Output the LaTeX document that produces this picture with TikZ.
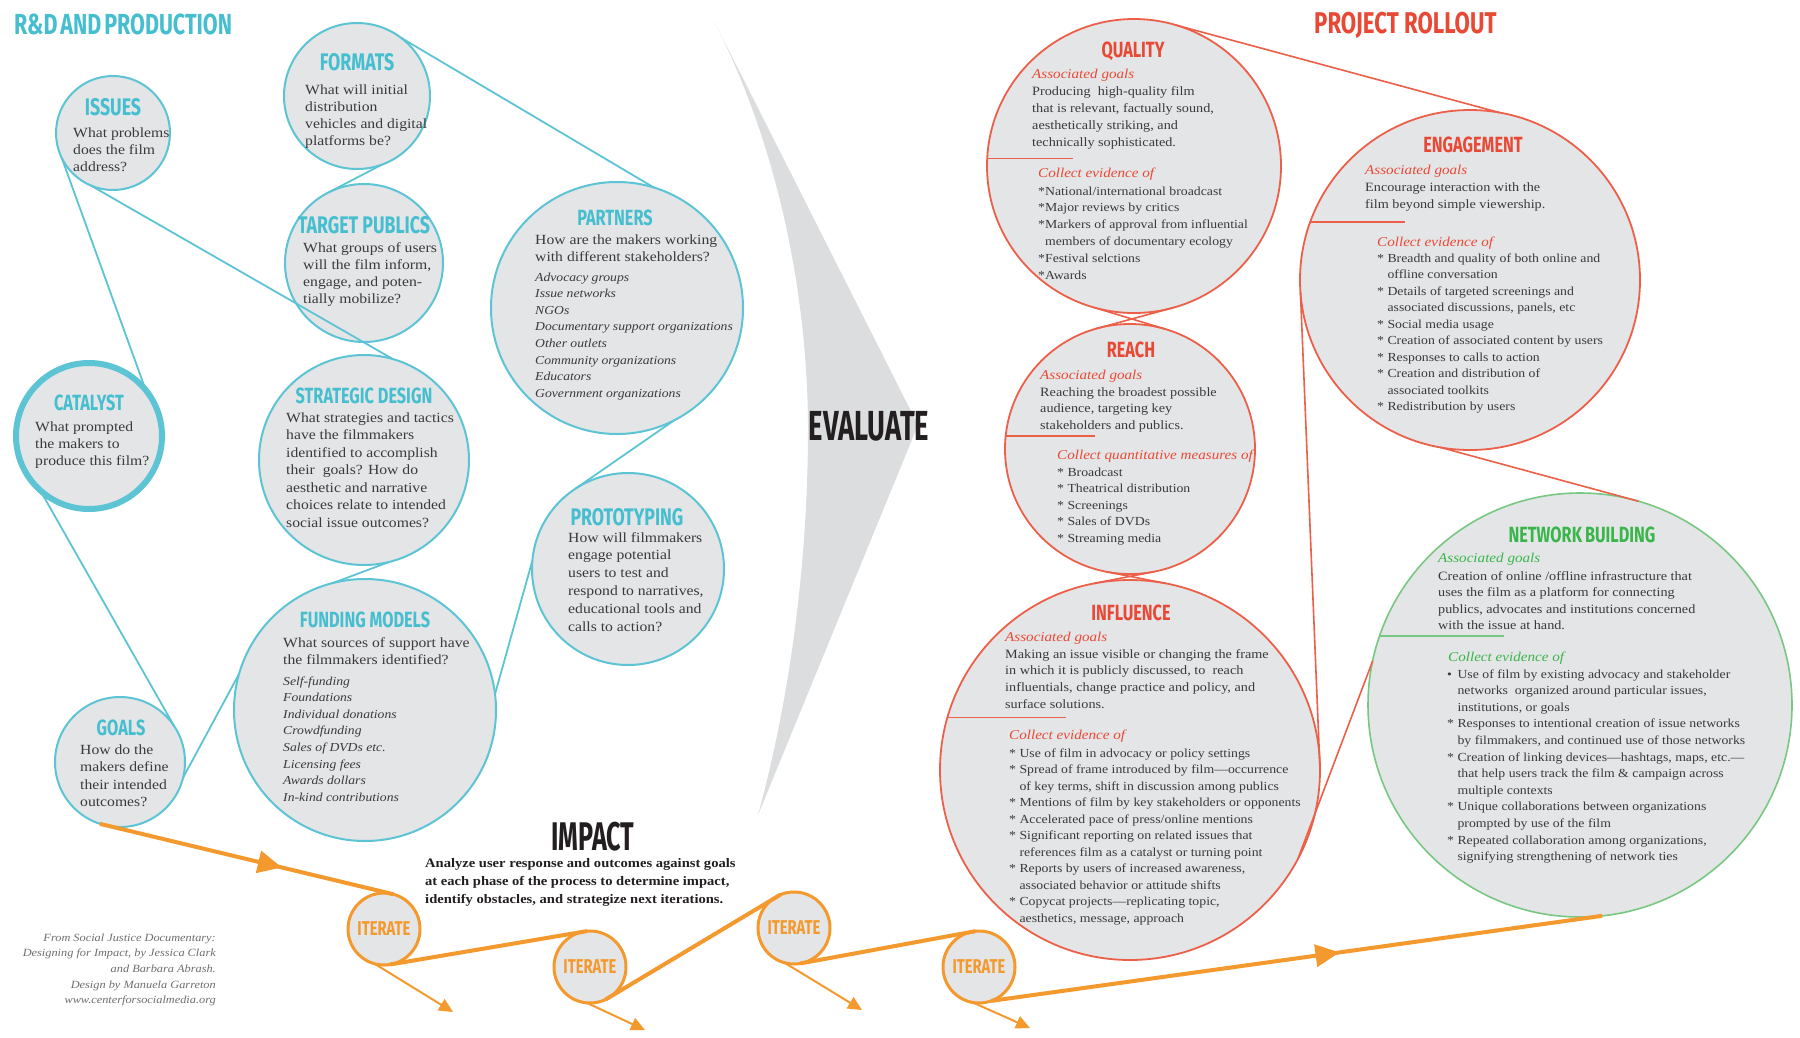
\documentclass[tikz,border=0pt]{standalone}
\usepackage{fontspec}
\usetikzlibrary{arrows.meta,decorations.markings}
\setmainfont[FakeStretch=1.12]{Liberation Serif}
\newfontfamily\headfont[FakeStretch=0.74]{Fira Sans}

\definecolor{cyanT}{RGB}{69,190,207}
\definecolor{cyanL}{RGB}{92,196,212}
\definecolor{redT}{RGB}{233,72,52}
\definecolor{redL}{RGB}{236,95,72}
\definecolor{greenT}{RGB}{57,181,74}
\definecolor{greenL}{RGB}{120,200,130}
\definecolor{orangeC}{RGB}{244,153,45}
\definecolor{bubfill}{RGB}{228,229,231}
\definecolor{txtgray}{RGB}{58,58,60}
\definecolor{evalgray}{RGB}{220,221,222}
\definecolor{creditgray}{RGB}{110,110,112}
\definecolor{inkblack}{RGB}{35,31,32}

% text blocks: first baseline sits at the node position
\newcommand\blk[3]{\parbox[t]{460pt}{\fontsize{#1}{#2}\selectfont #3}}
\newcommand\ind{\hphantom{* }}
\newcommand\itm{\leavevmode*\ }

\tikzset{
  bub/.style={circle, fill=bubfill, inner sep=0pt, outer sep=0pt, minimum size=#1},
  rdbub/.style={bub=#1, draw=cyanL, line width=2pt},
  prbub/.style={bub=#1, draw=redL, line width=1.8pt},
  nbbub/.style={bub=#1, draw=greenL, line width=1.6pt},
  itbub/.style={bub=72pt, draw=orangeC, line width=3pt},
  cyline/.style={draw=cyanL, line width=1.8pt},
  rline/.style={draw=redL, line width=1.6pt},
  gline/.style={draw=greenL, line width=1.6pt},
  orline/.style={draw=orangeC, line width=4pt},
  orthin/.style={draw=orangeC, line width=2pt, -{Triangle[length=14pt,width=13pt]}},
  midarrow/.style={postaction={decorate}, decoration={markings,
      mark=at position #1 with {\arrow{Triangle[length=24pt,width=22pt]}}}},
  hd/.style={anchor=base, inner sep=0pt, font=\headfont\bfseries\fontsize{22}{22}\selectfont},
  hdl/.style={hd, font=\headfont\bfseries\fontsize{24}{24}\selectfont},
  txt/.style={anchor=base west, inner sep=0pt, text=txtgray},
  lbl/.style={anchor=base west, inner sep=0pt, font=\itshape\fontsize{13.5}{14}\selectfont},
}

\begin{document}
\begin{tikzpicture}[x=1pt,y=-1pt]
\useasboundingbox (0,0) rectangle (1800,1037);
\fill[white] (0,0) rectangle (1800,1037);

% the grey EVALUATE chevron
\fill[evalgray] (714,21) -- (918,425) -- (758,815)
  .. controls (795,680) and (808,540) .. (808,430)
  .. controls (808,300) and (780,150) .. (714,21) -- cycle;
\node[anchor=base, inner sep=0pt, text=inkblack,
  font=\headfont\bfseries\fontsize{42}{42}\selectfont] (evaluate) at (869,440) {\scalebox{0.88}[1]{EVALUATE}};

% section titles
\node[anchor=base west, inner sep=0pt, text=cyanT,
  font=\headfont\bfseries\fontsize{29}{29}\selectfont] (rdtitle) at (14,34)
  {R\&D\hspace{3pt}AND\hspace{3pt}PRODUCTION};
\node[anchor=base west, inner sep=0pt, text=redT,
  font=\headfont\bfseries\fontsize{30}{30}\selectfont] (prtitle) at (1314,33)
  {PROJECT ROLLOUT};

% ---------------- R&D and production bubbles ----------------
\node[rdbub=114pt] (issues) at (113,133) {};
\node[rdbub=146pt] (formats) at (357,96) {};
\node[rdbub=158pt] (tp) at (364,263) {};
\node[rdbub=252pt] (partners) at (617,308) {};
\node[rdbub=210pt] (sd) at (364,460) {};
\node[rdbub=192pt] (proto) at (628,569) {};
\node[bub=146pt, draw=cyanL, line width=6pt] (catalyst) at (89,436) {};
\node[rdbub=262pt] (fund) at (365,710) {};
\node[rdbub=130pt] (goals) at (120,762) {};

\draw[cyline] (formats.53) -- (partners.73);
\draw[cyline] (formats.290) -- (tp.116);
\draw[cyline] (issues.206) -- (catalyst.39);
\draw[cyline] (issues.247) -- (sd.74);
\draw[cyline] (partners.297) -- (proto.123);
\draw[cyline] (sd.284) -- (fund.104);
\draw[cyline] (catalyst.228) -- (goals.34);
\draw[cyline] (goals.346) -- (fund.164);
\draw[cyline] (fund.7) -- (proto.175);

\node[hdl, text=cyanT] (issuesH) at (113,115) {ISSUES};
\node[txt] (issuesT) at (73,137) {\blk{14}{17}{What problems\\does the film\\address?}};

\node[hdl, text=cyanT] (formatsH) at (357,70) {FORMATS};
\node[txt] (formatsT) at (305,94) {\blk{14}{17}{What will initial\\distribution\\vehicles and digital\\platforms be?}};

\node[hdl, text=cyanT] (tpH) at (364,233) {TARGET PUBLICS};
\node[txt] (tpT) at (303,252) {\blk{14}{17.3}{What groups of users\\will the film inform,\\engage, and poten-\\tially mobilize?}};

\node[hd, text=cyanT] (partnersH) at (615,225) {PARTNERS};
\node[txt] (partnersT) at (535,244) {\blk{14}{17}{How are the makers working\\with different stakeholders?}};
\node[txt] (partnersL) at (535,281) {\blk{12.2}{16.6}{\itshape Advocacy groups\\Issue networks\\NGOs\\Documentary support organizations\\Other outlets\\Community organizations\\Educators\\Government organizations}};

\node[hd, text=cyanT] (sdH) at (364,403) {STRATEGIC DESIGN};
\node[txt] (sdT) at (286,422) {\blk{14}{17.5}{What strategies and tactics\\have the filmmakers\\identified to accomplish\\their\ \ goals? How do\\aesthetic and narrative\\choices relate to intended\\social issue outcomes?}};

\node[hd, text=cyanT] (catalystH) at (89,410) {CATALYST};
\node[txt] (catalystT) at (35,431) {\blk{14}{17}{What prompted\\the makers to\\produce this film?}};

\node[hd, text=cyanT] (goalsH) at (121,735) {GOALS};
\node[txt] (goalsT) at (80,754) {\blk{14}{17.6}{How do the\\makers define\\their intended\\outcomes?}};

\node[hd, text=cyanT] (fundH) at (365,627) {FUNDING MODELS};
\node[txt] (fundT) at (283,647) {\blk{14}{17}{What sources of support have\\the filmmakers identified?}};
\node[txt] (fundL) at (283,685) {\blk{12.2}{16.6}{\itshape Self-funding\\Foundations\\Individual donations\\Crowdfunding\\Sales of DVDs etc.\\Licensing fees\\Awards dollars\\In-kind contributions}};

\node[hdl, text=cyanT] (protoH) at (627,525) {PROTOTYPING};
\node[txt] (protoT) at (568,542) {\blk{14}{17.8}{How will filmmakers\\engage potential\\users to test and\\respond to narratives,\\educational tools and\\calls to action?}};

% ---------------- project rollout bubbles ----------------
\node[prbub=294pt] (quality) at (1134,166) {};
\node[prbub=340pt] (engage) at (1470,280) {};
\node[prbub=250pt] (reach) at (1130,449) {};
\node[prbub=380pt] (influence) at (1130,770) {};
\node[nbbub=424pt] (nb) at (1580,705) {};

\draw[rline] (quality.74) -- (engage.80);
\draw[rline] (quality.254) -- (reach.74);
\draw[rline] (quality.286) -- (reach.106);
\draw[rline] (reach.259) -- (influence.79);
\draw[rline] (reach.281) -- (influence.101);
\draw[rline] (engage.184) -- (influence.0);
\draw[rline] (engage.260) -- (nb.74);
\draw[rline] (nb.168) -- (influence.332);

% dividers between goals and evidence
\draw[rline] (quality.177.3) -- ++(86,0);
\draw[rline] (engage.160.4) -- ++(95,0);
\draw[rline] (reach.174.9) -- ++(89,0);
\draw[rline] (influence.164.1) -- ++(119,0);
\draw[gline] (nb.161.6) -- ++(124,0);

% QUALITY
\node[hd, text=redT] (qualityH) at (1133,57) {QUALITY};
\node[lbl, text=redT] (qualityG) at (1032,78) {Associated goals};
\node[txt] (qualityT) at (1032,95) {\blk{12.7}{17}{Producing\ \ high-quality film\\that is relevant, factually sound,\\aesthetically striking, and\\technically sophisticated.}};
\node[lbl, text=redT] (qualityE) at (1038,177) {Collect evidence of};
\node[txt] (qualityL) at (1038,195) {\blk{12.3}{16.8}{\leavevmode*National/international broadcast\\\leavevmode*Major reviews by critics\\\leavevmode*Markers of approval from influential\\\hphantom{*}members of documentary ecology\\\leavevmode*Festival selctions\\\leavevmode*Awards}};

% ENGAGEMENT
\node[hd, text=redT] (engageH) at (1473,152) {ENGAGEMENT};
\node[lbl, text=redT] (engageG) at (1365,174) {Associated goals};
\node[txt] (engageT) at (1365,191) {\blk{12.7}{17}{Encourage interaction with the\\film beyond simple viewership.}};
\node[lbl, text=redT] (engageE) at (1377,246) {Collect evidence of};
\node[txt] (engageL) at (1377,262) {\blk{12.3}{16.5}{\itm Breadth and quality of both online and\\\ind offline conversation\\\itm Details of targeted screenings and\\\ind associated discussions, panels, etc\\\itm Social media usage\\\itm Creation of associated content by users\\\itm Responses to calls to action\\\itm Creation and distribution of\\\ind associated toolkits\\\itm Redistribution by users}};

% REACH
\node[hd, text=redT] (reachH) at (1131,357) {REACH};
\node[lbl, text=redT] (reachG) at (1040,379) {Associated goals};
\node[txt] (reachT) at (1040,396) {\blk{12.7}{16.8}{Reaching the broadest possible\\audience, targeting key\\stakeholders and publics.}};
\node[lbl, text=redT] (reachE) at (1057,459) {Collect quantitative measures of};
\node[txt] (reachL) at (1057,476) {\blk{12.3}{16.5}{\itm Broadcast\\\itm Theatrical distribution\\\itm Screenings\\\itm Sales of DVDs\\\itm Streaming media}};

% INFLUENCE
\node[hd, text=redT] (influenceH) at (1131,620) {INFLUENCE};
\node[lbl, text=redT] (influenceG) at (1005,641) {Associated goals};
\node[txt] (influenceT) at (1005,658) {\blk{12.7}{16.8}{Making an issue visible or changing the frame\\in which it is publicly discussed, to\ \ reach\\influentials, change practice and policy, and\\surface solutions.}};
\node[lbl, text=redT] (influenceE) at (1009,739) {Collect evidence of};
\node[txt] (influenceL) at (1009,757) {\blk{12.3}{16.5}{\itm Use of film in advocacy or policy settings\\\itm Spread of frame introduced by film---occurrence\\\ind of key terms, shift in discussion among publics\\\itm Mentions of film by key stakeholders or opponents\\\itm Accelerated pace of press/online mentions\\\itm Significant reporting on related issues that\\\ind references film as a catalyst or turning point\\\itm Reports by users of increased awareness,\\\ind associated behavior or attitude shifts\\\itm Copycat projects---replicating topic,\\\ind aesthetics, message, approach}};

% NETWORK BUILDING
\node[hd, text=greenT] (nbH) at (1582,542) {NETWORK\hspace{3pt}BUILDING};
\node[lbl, text=greenT] (nbG) at (1438,562) {Associated goals};
\node[txt] (nbT) at (1438,580) {\blk{12.7}{16.5}{Creation of online /offline infrastructure that\\uses the film as a platform for connecting\\publics, advocates and institutions concerned\\with the issue at hand.}};
\node[lbl, text=greenT] (nbE) at (1448,661) {Collect evidence of};
\node[txt] (nbL) at (1447,678) {\blk{12.3}{16.6}{\leavevmode\rlap{\textbullet}\ind Use of film by existing advocacy and stakeholder\\\ind networks\ \ organized around particular issues,\\\ind institutions, or goals\\\itm Responses to intentional creation of issue networks\\\ind by filmmakers, and continued use of those networks\\\itm Creation of linking devices---hashtags, maps, etc.---\\\ind that help users track the film \& campaign across\\\ind multiple contexts\\\itm Unique collaborations between organizations\\\ind prompted by use of the film\\\itm Repeated collaboration among organizations,\\\ind signifying strengthening of network ties}};

% ---------------- impact and iteration path ----------------
\node[anchor=base, inner sep=0pt, text=inkblack,
  font=\headfont\bfseries\fontsize{40}{40}\selectfont] (impactH) at (593,850) {\scalebox{0.85}[1]{IMPACT}};
\node[txt, text=inkblack] (impactT) at (425,867) {\blk{13}{18}{\bfseries Analyze user response and outcomes against goals\\at each phase of the process to determine impact,\\identify obstacles, and strategize next iterations.}};

\node[itbub] (it1) at (384,929) {};
\node[itbub] (it2) at (590,967) {};
\node[itbub] (it3) at (794,928) {};
\node[itbub] (it4) at (979,967) {};
\foreach \n in {it1,it2,it3,it4}
  \node[anchor=center, inner sep=0pt, text=orangeC,
    font=\headfont\bfseries\fontsize{20}{20}\selectfont] (\n-label) at (\n) {ITERATE};

\coordinate (tip1) at (453,1012);
\coordinate (tip2) at (645,1030);
\coordinate (tip3) at (862,1010);
\coordinate (tip4) at (1030,1028);

\draw[orline, midarrow=0.62] (goals.252) -- (it1.75);
\draw[orline] (it1.280) -- (it2.95);
\draw[orline] (it2.296) -- (it3.112);
\draw[orline] (it3.280) -- (it4.96);
\draw[orline, midarrow=0.57] (it4.290) -- (nb.276);
\draw[orthin] (it1.255) -- (tip1);
\draw[orthin] (it2.265) -- (tip2);
\draw[orthin] (it3.255) -- (tip3);
\draw[orthin] (it4.260) -- (tip4);

% credits
\node[anchor=base east, inner sep=0pt, text=creditgray] (credit) at (216,941)
  {\parbox[t]{300pt}{\raggedleft\itshape\fontsize{11}{15.7}\selectfont
  From Social Justice Documentary:\\Designing for Impact, by Jessica Clark\\and Barbara Abrash.\\Design by Manuela Garreton\\www.centerforsocialmedia.org}};
\end{tikzpicture}
\end{document}
